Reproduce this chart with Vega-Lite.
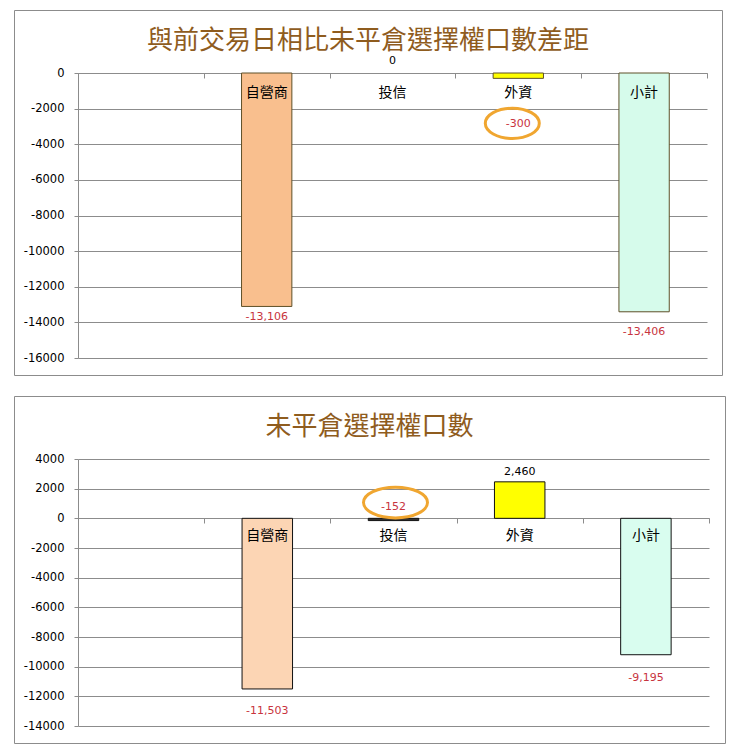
{
  "$schema": "https://vega.github.io/schema/vega-lite/v6.json",
  "description": "Options open interest by trader type, change vs previous day and totals",
  "background": "white",
  "padding": {"left": 13, "top": 9, "right": 0, "bottom": 0},
  "spacing": 19,
  "resolve": {"scale": {"color": "independent"}},
  "datasets": {
    "diff": [
      {"cat": "自營商", "value": -13106},
      {"cat": "投信", "value": 0},
      {"cat": "外資", "value": -300},
      {"cat": "小計", "value": -13406}
    ],
    "oi": [
      {"cat": "自營商", "value": -11503},
      {"cat": "投信", "value": -152},
      {"cat": "外資", "value": 2460},
      {"cat": "小計", "value": -9195}
    ]
  },
  "vconcat": [
    {
      "width": 708,
      "height": 365,
      "data": {"name": "diff"},
      "title": {"text": "與前交易日相比未平倉選擇權口數差距", "offset": -44},
      "encoding": {
        "x": {
          "field": "cat",
          "type": "nominal",
          "scale": {
            "domain": ["", "自營商", "投信", "外資", "小計"],
            "range": [64, 693],
            "paddingInner": 0,
            "paddingOuter": 0
          },
          "axis": {"orient": "top", "offset": -63, "labels": false, "tickBand": "extent", "tickSize": -5, "title": null}
        }
      },
      "layer": [
        {
          "transform": [{"filter": "datum.value !== 0"}],
          "mark": {"type": "bar", "width": {"band": 0.4}, "stroke": "#5e5028", "strokeWidth": 1},
          "encoding": {
            "y": {
              "field": "value",
              "type": "quantitative",
              "scale": {"domain": [-16000, 0], "range": [348, 63], "nice": false},
              "axis": {
                "values": [0, -2000, -4000, -6000, -8000, -10000, -12000, -14000, -16000],
                "tickCount": 20,
                "format": "d", "offset": -64, "tickSize": 4, "labelPadding": 10, "labelOverlap": false, "title": null
              }
            },
            "color": {
              "field": "cat",
              "type": "nominal",
              "scale": {"domain": ["自營商", "投信", "外資", "小計"], "range": ["#f9bf8e", "#999999", "#ffff00", "#d6fbeb"]},
              "legend": null
            }
          }
        },
        {
          "mark": {
            "type": "text", "font": "DejaVu Sans", "fontSize": 11, "baseline": "middle",
            "dy": {"expr": "datum.cat === '外資' ? 46 : datum.cat === '投信' ? -12 : datum.cat === '自營商' ? 11 : 20"}
          },
          "encoding": {
            "y": {"field": "value", "type": "quantitative"},
            "text": {"field": "value", "type": "quantitative", "format": ",d"},
            "color": {"condition": {"test": "datum.value < 0", "value": "#c8343e"}, "value": "black"}
          }
        },
        {
          "mark": {"type": "text", "font": "Noto Sans CJK TC", "fontSize": 14, "baseline": "middle", "dy": 20, "color": "black"},
          "encoding": {
            "y": {"datum": 0},
            "text": {"field": "cat", "type": "nominal"}
          }
        },
        {
          "transform": [{"filter": "datum.cat === '外資'"}],
          "mark": {
            "type": "point", "shape": "M -1 0 A 1 0.56 0 1 1 1 0 A 1 0.56 0 1 1 -1 0 Z",
            "size": 2916, "filled": false, "color": "#f0a630", "strokeWidth": 3, "opacity": 1,
            "xOffset": -6, "yOffset": 45
          },
          "encoding": {
            "y": {"field": "value", "type": "quantitative"}
          }
        }
      ]
    },
    {
      "width": 711,
      "height": 347,
      "data": {"name": "oi"},
      "title": {"text": "未平倉選擇權口數", "offset": -44},
      "encoding": {
        "x": {
          "field": "cat",
          "type": "nominal",
          "scale": {
            "domain": ["", "自營商", "投信", "外資", "小計"],
            "range": [64, 695],
            "paddingInner": 0,
            "paddingOuter": 0
          },
          "axis": {"orient": "top", "offset": -122, "labels": false, "tickBand": "extent", "tickSize": -5, "title": null}
        }
      },
      "layer": [
        {
          "mark": {"type": "bar", "width": {"band": 0.4}, "stroke": "#111111", "strokeWidth": 1},
          "encoding": {
            "y": {
              "field": "value",
              "type": "quantitative",
              "scale": {"domain": [-14000, 4000], "range": [330, 63], "nice": false},
              "axis": {
                "values": [4000, 2000, 0, -2000, -4000, -6000, -8000, -10000, -12000, -14000],
                "tickCount": 20,
                "format": "d", "offset": -64, "tickSize": 4, "labelPadding": 10, "labelOverlap": false, "title": null
              }
            },
            "color": {
              "field": "cat",
              "type": "nominal",
              "scale": {"domain": ["自營商", "投信", "外資", "小計"], "range": ["#fcd5b4", "#333333", "#ffff00", "#d9fdef"]},
              "legend": null
            }
          }
        },
        {
          "mark": {
            "type": "text", "font": "DejaVu Sans", "fontSize": 11, "baseline": "middle",
            "dy": {"expr": "datum.cat === '外資' ? -10 : datum.cat === '投信' ? -14 : datum.cat === '自營商' ? 22 : 23"}
          },
          "encoding": {
            "y": {"field": "value", "type": "quantitative"},
            "text": {"field": "value", "type": "quantitative", "format": ",d"},
            "color": {"condition": {"test": "datum.value < 0", "value": "#c8343e"}, "value": "black"}
          }
        },
        {
          "mark": {"type": "text", "font": "Noto Sans CJK TC", "fontSize": 14, "baseline": "middle", "dy": 18, "color": "black"},
          "encoding": {
            "y": {"datum": 0},
            "text": {"field": "cat", "type": "nominal"}
          }
        },
        {
          "transform": [{"filter": "datum.cat === '投信'"}],
          "mark": {
            "type": "point", "shape": "M -1 0 A 1 0.48 0 1 1 1 0 A 1 0.48 0 1 1 -1 0 Z",
            "size": 4096, "filled": false, "color": "#f0a630", "strokeWidth": 3, "opacity": 1,
            "xOffset": 2, "yOffset": -18
          },
          "encoding": {
            "y": {"field": "value", "type": "quantitative"}
          }
        }
      ]
    }
  ],
  "config": {
    "locale": {"number": {"decimal": ".", "thousands": ",", "grouping": [3], "currency": ["$", ""], "minus": "-"}},
    "view": {"stroke": "#8c8c8c", "strokeWidth": 1},
    "title": {
      "font": "Noto Sans CJK TC", "fontSize": 26, "fontWeight": "normal", "color": "#8f5c1e",
      "anchor": "middle", "frame": "group", "baseline": "middle"
    },
    "axis": {
      "grid": true,
      "gridColor": "#8c8c8c",
      "domainColor": "#8c8c8c",
      "tickColor": "#8c8c8c",
      "labelFont": "DejaVu Sans",
      "labelFontSize": 11.5,
      "labelColor": "black"
    },
    "axisX": {"grid": false}
  }
}
